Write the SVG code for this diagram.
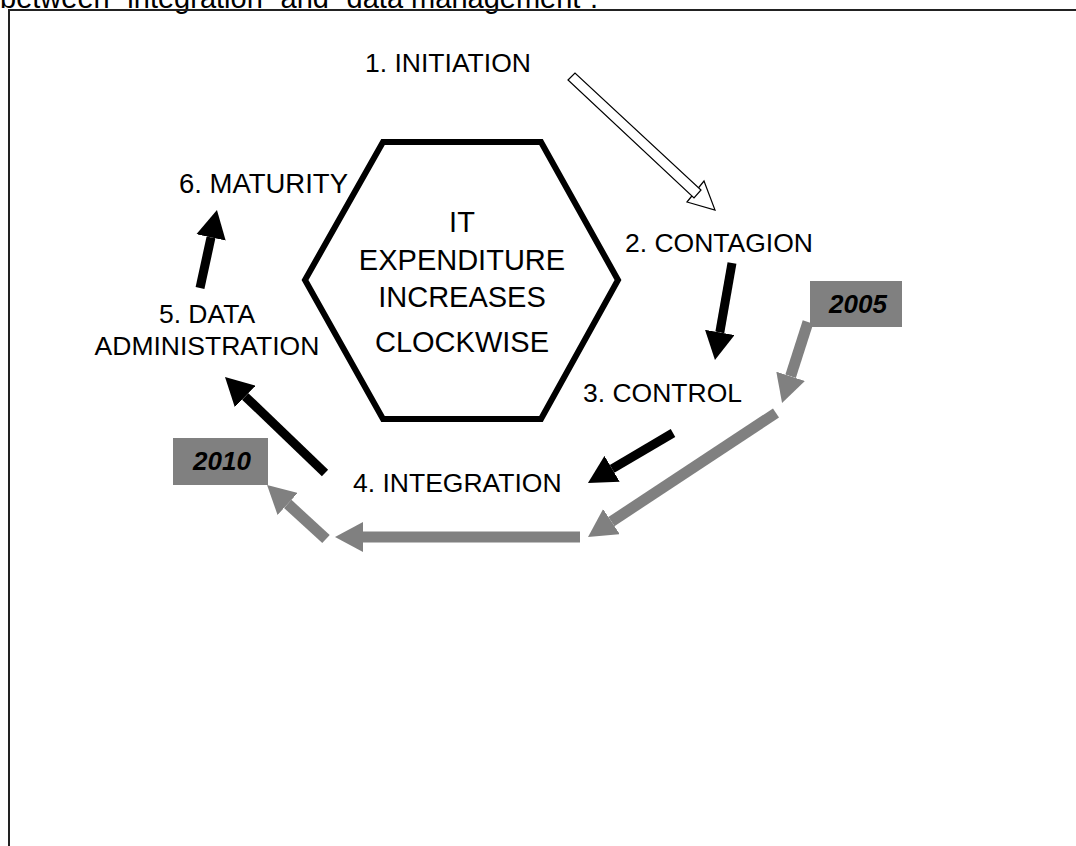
<svg xmlns="http://www.w3.org/2000/svg" width="1076" height="846" viewBox="0 0 1076 846">
<style>
.lbl{font-family:"Liberation Sans",Arial,sans-serif;font-size:26.5px;fill:#000}
.ctr{font-family:"Liberation Sans",Arial,sans-serif;font-size:29px;fill:#000;text-anchor:middle}
.yr{font-family:"Liberation Sans",Arial,sans-serif;font-size:26px;font-weight:bold;font-style:italic;fill:#000;text-anchor:middle}
.blk{stroke:#000;stroke-width:9;fill:none}
.gry{stroke:#808080;stroke-width:11;fill:none}
</style>
<defs>
<marker id="hb" viewBox="0 0 28 30" refX="0" refY="15" markerWidth="28" markerHeight="30" markerUnits="userSpaceOnUse" orient="auto"><path d="M0,0 L28,15 L0,30 z" fill="#000"/></marker>
<marker id="hg" viewBox="0 0 28 30" refX="0" refY="15" markerWidth="28" markerHeight="30" markerUnits="userSpaceOnUse" orient="auto"><path d="M0,0 L28,15 L0,30 z" fill="#808080"/></marker>
</defs>
<rect width="1076" height="846" fill="#fff"/>
<text x="0" y="8" style="font-family:'Liberation Sans',Arial,sans-serif;font-size:29px">between “integration” and “data management”.</text>
<path d="M9,846 V10 H1076" fill="none" stroke="#222" stroke-width="2"/>
<g id="hexagon">
<polygon points="383,142 541,142 618,280 541,419 383,419 305,280" fill="#fff" stroke="#000" stroke-width="6" stroke-linejoin="miter"/>
<text class="ctr" x="462" y="232">IT</text>
<text class="ctr" x="462" y="270">EXPENDITURE</text>
<text class="ctr" x="462" y="307">INCREASES</text>
<text class="ctr" x="462" y="352">CLOCKWISE</text>
</g>
<g id="n1"><text class="lbl" x="365" y="72">1. INITIATION</text></g>
<g id="n2"><text class="lbl" x="625" y="252">2. CONTAGION</text></g>
<g id="n3"><text class="lbl" x="583" y="402">3. CONTROL</text></g>
<g id="n4"><text class="lbl" x="353" y="492">4. INTEGRATION</text></g>
<g id="n5"><text class="lbl" x="207" y="323" text-anchor="middle">5. DATA</text><text class="lbl" x="207" y="355" text-anchor="middle">ADMINISTRATION</text></g>
<g id="n6"><text class="lbl" x="348" y="193" text-anchor="end" style="font-size:27.5px">6. MATURITY</text></g>
<g id="y2005"><rect x="810" y="281" width="92" height="46" fill="#808080"/><text class="yr" x="858" y="313">2005</text></g>
<g id="y2010"><rect x="173" y="438" width="95" height="47" fill="#808080"/><text class="yr" x="222" y="470">2010</text></g>
<g id="connectors">
<g id="initiation-arrow" fill="#fff" stroke="#000" stroke-width="1.2">
<polygon points="687,202 704,181 715,210"/>
<polygon points="568,80 575,73 701,190 694,198"/>
</g>
<line class="blk" x1="732" y1="263" x2="719.8" y2="332.4" marker-end="url(#hb)"/>
<line class="blk" x1="673" y1="433" x2="612.1" y2="468.8" marker-end="url(#hb)"/>
<line class="blk" x1="325" y1="473" x2="245.2" y2="396.4" marker-end="url(#hb)"/>
<line class="blk" x1="200" y1="288" x2="211" y2="237.4" marker-end="url(#hb)"/>
<line class="gry" x1="808" y1="322" x2="790.6" y2="376.3" marker-end="url(#hg)"/>
<line class="gry" x1="776" y1="413" x2="611.4" y2="521.6" marker-end="url(#hg)"/>
<line class="gry" x1="580" y1="537" x2="363" y2="537" marker-end="url(#hg)"/>
<line class="gry" x1="326" y1="539" x2="287.7" y2="503.9" marker-end="url(#hg)"/>
</g>
</svg>
